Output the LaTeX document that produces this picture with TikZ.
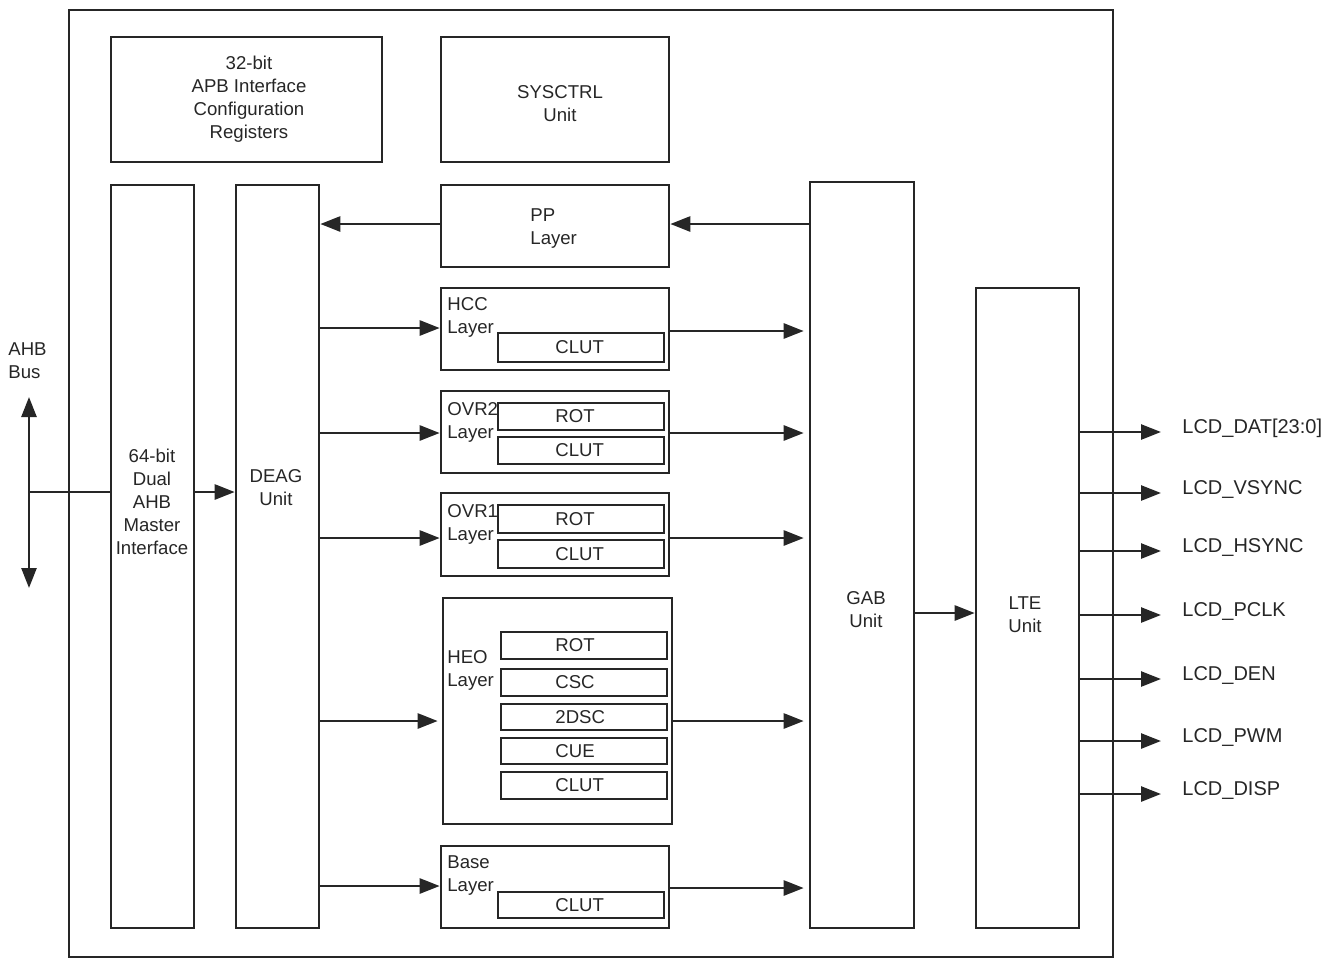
\documentclass[tikz,border=0pt]{standalone}
\usepackage{fontspec}
\setmainfont{Liberation Sans}
\usetikzlibrary{arrows.meta,fit,calc}
\definecolor{ink}{HTML}{262626}
\begin{document}
\begin{tikzpicture}[x=0.5pt,y=-0.5pt,
  box/.style={draw=ink, line width=1.3pt, inner sep=0pt},
  sub/.style={box, line width=1.35pt},
  txt/.style={align=center, inner sep=0pt, text=ink, font=\fontsize{9.3}{11.5}\selectfont},
  lbl/.style={anchor=west, align=left, inner sep=0pt, text=ink,
              font=\fontsize{9.3}{11.5}\selectfont},
  sig/.style={anchor=west, inner sep=0pt, text=ink, font=\fontsize{10}{12}\selectfont},
  tip/.tip={Triangle[length=10pt,width=7.5pt]},
  arr/.style={draw=ink, line width=1.3pt, -tip},
  dbl/.style={draw=ink, line width=1.3pt, tip-tip},
  wire/.style={draw=ink, line width=1.3pt}]
\useasboundingbox (0,0) rectangle (1331,959);
% outer frame
\node[box, fit={(69,10)(1113,957)}] (frame) {};
% top blocks
\node[box, fit={(111,37)(382,162)}] (apb) {};
\node[txt] (apbt) at (249,99) {32-bit\\APB Interface\\Configuration\\Registers};
\node[box, fit={(441,37)(669,162)}] (sys) {};
\node[txt] (syst) at (560,103.5) {SYSCTRL\\Unit};
% tall blocks
\node[box, fit={(111,185)(194,928)}] (ahb) {};
\node[txt] (ahbt) at (152,501.5) {64-bit\\Dual\\AHB\\Master\\Interface};
\node[box, fit={(236,185)(319,928)}] (deag) {};
\node[txt] (deagt) at (276,487.5) {DEAG\\Unit};
\node[box, fit={(810,182)(914,928)}] (gab) {};
\node[txt] (gabt) at (866,609.5) {GAB\\Unit};
\node[box, fit={(976,288)(1079,928)}] (lte) {};
\node[txt] (ltet) at (1025,614.5) {LTE\\Unit};
% PP layer
\node[box, fit={(441,185)(669,267)}] (pp) {};
\node[lbl] at (530,229) {PP\\Layer};
% HCC layer
\node[box, fit={(441,288)(669,370)}] (hcc) {};
\node[lbl] at (447,317.5) {HCC\\Layer};
\node[sub, fit={(498,333)(664,362)}] (hccclut) {};
\node[lbl] at (hccclut.center -| 555,0) {CLUT};
% OVR2 layer
\node[box, fit={(441,391)(669,473)}] (ovr2) {};
\node[lbl] at (447,422) {OVR2\\Layer};
\node[sub, fit={(498,403)(664,430)}] (ovr2rot) {};
\node[lbl] at (ovr2rot.center -| 555,0) {ROT};
\node[sub, fit={(498,437)(664,464)}] (ovr2clut) {};
\node[lbl] at (ovr2clut.center -| 555,0) {CLUT};
% OVR1 layer
\node[box, fit={(441,493)(669,576)}] (ovr1) {};
\node[lbl] at (447,524.5) {OVR1\\Layer};
\node[sub, fit={(498,505)(664,533)}] (ovr1rot) {};
\node[lbl] at (ovr1rot.center -| 555,0) {ROT};
\node[sub, fit={(498,540)(664,568)}] (ovr1clut) {};
\node[lbl] at (ovr1clut.center -| 555,0) {CLUT};
% HEO layer
\node[box, fit={(443,598)(672,824)}] (heo) {};
\node[lbl] at (447,670.5) {HEO\\Layer};
\node[sub, fit={(501,632)(667,659)}] (heorot) {};
\node[lbl] at (heorot.center -| 555,0) {ROT};
\node[sub, fit={(501,669)(667,696)}] (heocsc) {};
\node[lbl] at (heocsc.center -| 555,0) {CSC};
\node[sub, fit={(501,704)(667,730)}] (heoscl) {};
\node[lbl] at (heoscl.center -| 555,0) {2DSC};
\node[sub, fit={(501,738)(667,764)}] (heocue) {};
\node[lbl] at (heocue.center -| 555,0) {CUE};
\node[sub, fit={(501,772)(667,799)}] (heoclut) {};
\node[lbl] at (heoclut.center -| 555,0) {CLUT};
% Base layer
\node[box, fit={(441,846)(669,928)}] (base) {};
\node[lbl] at (447,875.5) {Base\\Layer};
\node[sub, fit={(498,892)(664,918)}] (baseclut) {};
\node[lbl] at (baseclut.center -| 555,0) {CLUT};
% AHB bus
\node[lbl] at (8,361) {AHB\\Bus};
\coordinate (bustop) at (29,397);
\coordinate (busbot) at (29,588);
\coordinate (bus) at (29,492);
\draw[dbl] (bustop) -- (busbot);
\draw[wire] (bus) -- (ahb.west |- bus);
\draw[arr] (ahb.east |- bus) -- (deag.west |- bus);
% PP path
\draw[arr] (gab.west |- 0,224) -- (pp.east |- 0,224);
\draw[arr] (pp.west |- 0,224) -- (deag.east |- 0,224);
% DEAG to layers, layers to GAB
\draw[arr] (deag.east |- 0,328) -- (hcc.west |- 0,328);
\draw[arr] (hcc.east |- 0,331) -- ([xshift=-2.5pt]gab.west |- 0,331);
\draw[arr] (deag.east |- 0,433) -- (ovr2.west |- 0,433);
\draw[arr] (ovr2.east |- 0,433) -- ([xshift=-2.5pt]gab.west |- 0,433);
\draw[arr] (deag.east |- 0,538) -- (ovr1.west |- 0,538);
\draw[arr] (ovr1.east |- 0,538) -- ([xshift=-2.5pt]gab.west |- 0,538);
\draw[arr] (deag.east |- 0,721) -- ([xshift=-2pt]heo.west |- 0,721);
\draw[arr] (heo.east |- 0,721) -- ([xshift=-2.5pt]gab.west |- 0,721);
\draw[arr] (deag.east |- 0,886) -- (base.west |- 0,886);
\draw[arr] (base.east |- 0,888) -- ([xshift=-2.5pt]gab.west |- 0,888);
% GAB to LTE
\draw[arr] (gab.east |- 0,613) -- (lte.west |- 0,613);
% LTE outputs
\foreach \n/\y/\t in {dat/432/LCD\_DAT[23:0],vsync/493/LCD\_VSYNC,hsync/551/LCD\_HSYNC,pclk/615/LCD\_PCLK,den/679/LCD\_DEN,pwm/741/LCD\_PWM,disp/794/LCD\_DISP}{
  \coordinate (o\n) at (1161,\y);
  \draw[arr] (lte.east |- o\n) -- (o\n);
  \node[sig] (s\n) at (1182,\y-4) {\t};
}
\end{tikzpicture}
\end{document}
